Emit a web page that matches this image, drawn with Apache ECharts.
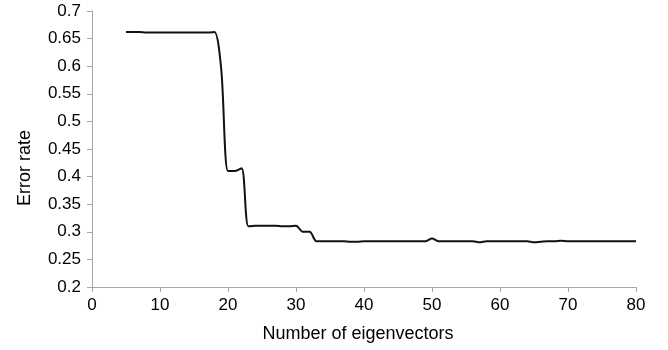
<!DOCTYPE html>
<html>
<head>
<meta charset="utf-8">
<script src="https://cdn.jsdelivr.net/npm/echarts@6/dist/echarts.min.js"></script>
<style>
  html, body { margin: 0; padding: 0; background: #fff; }
  #chart { width: 668px; height: 350px; }
</style>
</head>
<body>
<div id="chart"></div>
<script>
// number of eigenvectors (5..80) and error rate
const eigenCounts = [];
for (let i = 5; i <= 80; i++) eigenCounts.push(i);

const errorRate = [
  0.662, 0.662, 0.662, 0.661, 0.661, 0.661, 0.661, 0.661, 0.661, 0.661, // 5-14
  0.661, 0.661, 0.661, 0.662, 0.595, 0.410, 0.410, 0.415, 0.310, 0.311, // 15-24
  0.311, 0.311, 0.311, 0.310, 0.310, 0.311, 0.300, 0.300, 0.283, 0.283, // 25-34
  0.283, 0.283, 0.283, 0.282, 0.282, 0.283, 0.283, 0.283, 0.283, 0.283, // 35-44
  0.283, 0.283, 0.283, 0.283, 0.283, 0.288, 0.283, 0.283, 0.283, 0.283, // 45-54
  0.283, 0.283, 0.281, 0.283, 0.283, 0.283, 0.283, 0.283, 0.283, 0.283, // 55-64
  0.281, 0.282, 0.283, 0.283, 0.284, 0.283, 0.283, 0.283, 0.283, 0.283, // 65-74
  0.283, 0.283, 0.283, 0.283, 0.283, 0.283                              // 75-80
];

const xTitle = 'Number of eigenvectors';
const yTitle = 'Error rate';

const chart = echarts.init(document.getElementById('chart'));
const axisGray = '#a6a6a6';
const font = 'Liberation Sans, Arial, sans-serif';

const option = {
  animation: false,
  grid: { left: 92, right: 32, top: 11, bottom: 63 },
  xAxis: {
    type: 'value',
    min: 0,
    max: 80,
    interval: 10,
    axisLine: { show: true, lineStyle: { color: axisGray, width: 1 } },
    axisTick: { show: true, length: 5, lineStyle: { color: axisGray } },
    splitLine: { show: false },
    axisLabel: { color: '#000', fontSize: 17, fontFamily: font, margin: 10 }
  },
  yAxis: {
    type: 'value',
    min: 0.2,
    max: 0.7,
    interval: 0.05,
    axisLine: { show: true, lineStyle: { color: axisGray, width: 1 } },
    axisTick: { show: true, length: 5, lineStyle: { color: axisGray } },
    splitLine: { show: false },
    axisLabel: {
      color: '#000', fontSize: 17, fontFamily: font, margin: 11,
      formatter: v => String(+v.toFixed(2))
    }
  },
  graphic: [
    {
      type: 'text', x: 358, y: 334,
      style: {
        text: xTitle, fill: '#000', fontSize: 18, fontFamily: font,
        align: 'center', verticalAlign: 'middle'
      }
    },
    {
      type: 'text', x: 25, y: 168, rotation: Math.PI / 2,
      style: {
        text: yTitle, fill: '#000', fontSize: 18, fontFamily: font,
        align: 'center', verticalAlign: 'middle'
      }
    }
  ],
  series: [{
    type: 'line',
    data: eigenCounts.map((x, i) => [x, errorRate[i]]),
    smooth: 0.3,
    showSymbol: false,
    lineStyle: { color: '#111', width: 2 }
  }]
};
chart.setOption(option);
</script>
</body>
</html>
